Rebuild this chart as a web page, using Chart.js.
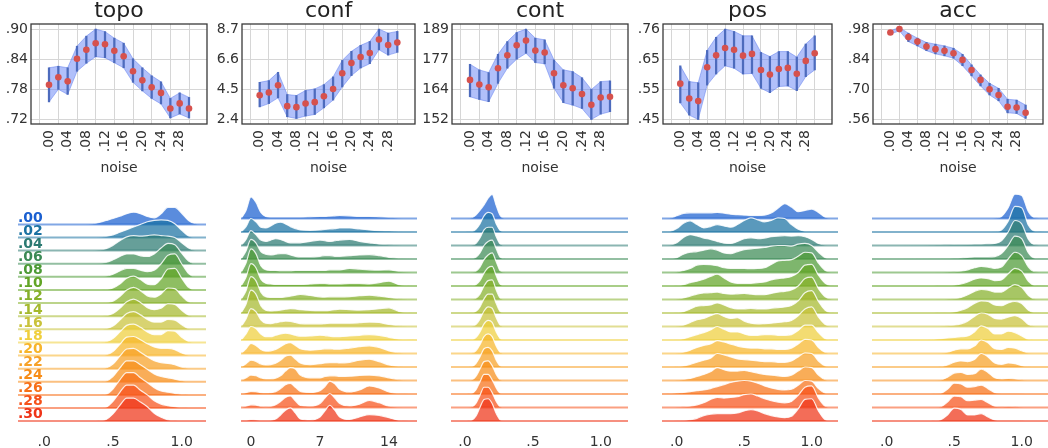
<!DOCTYPE html>
<html>
<head>
<meta charset="utf-8">
<script src="https://cdn.jsdelivr.net/npm/chart.js@4.4.1/dist/chart.umd.min.js"></script>
<style>
  body { margin: 0; background: #fff; width: 1048px; height: 448px; overflow: hidden; position: relative; }
  canvas { position: absolute; }
</style>
</head>
<body>
<script>
const FONT = "'DejaVu Sans', sans-serif";

// noise levels (x of the top row, one ridge per level in the bottom row)
const NOISE = [0, .02, .04, .06, .08, .10, .12, .14, .16, .18, .20, .22, .24, .26, .28, .30];
const NOISE_TICKS = [0, .04, .08, .12, .16, .20, .24, .28];
const NOISE_LABELS = ['.00', '.04', '.08', '.12', '.16', '.20', '.24', '.28'];
const ROW_LABELS = ['.00', '.02', '.04', '.06', '.08', '.10', '.12', '.14', '.16', '.18', '.20', '.22', '.24', '.26', '.28', '.30'];
const ROW_COLORS = ['#1a5fd0', '#1b72a2', '#2b7a72', '#3b8a55', '#4c9a35', '#62a526', '#85b02a', '#a5b92c',
                    '#c9c23a', '#efcf3c', '#f7b52a', '#f7a126', '#f78d18', '#f77018', '#f6521a', '#ef3418'];

// ---- top row: mean with band ----
const TOPO_MEAN = [.789, .804, .796, .841, .859, .872, .870, .857, .846, .816, .798, .784, .773, .742, .752, .742];
const TOPO_LOW  = [.755, .780, .770, .816, .832, .845, .843, .833, .823, .794, .777, .762, .751, .723, .731, .723];
const TOPO_HIGH = [.823, .826, .823, .866, .886, .900, .895, .882, .872, .841, .823, .807, .795, .762, .773, .764];
const TOPO_TICKS = [.72, .78, .84, .90];
const TOPO_TICK_LABELS = ['.72', '.78', '.84', '.90'];

const CONF_MEAN = [4.09, 4.28, 4.79, 3.33, 3.26, 3.51, 3.61, 4.02, 4.53, 5.62, 6.34, 6.76, 7.03, 7.98, 7.59, 7.77];
const CONF_LOW  = [3.28, 3.51, 3.91, 2.59, 2.47, 2.64, 2.75, 3.21, 3.75, 4.67, 5.46, 5.99, 6.29, 7.26, 6.89, 7.08];
const CONF_HIGH = [4.99, 5.11, 5.69, 4.14, 4.07, 4.42, 4.53, 4.83, 5.37, 6.52, 7.15, 7.57, 7.84, 8.70, 8.42, 8.54];
const CONF_TICKS = [2.4, 4.5, 6.6, 8.7];
const CONF_TICK_LABELS = ['2.4', '4.5', '6.6', '8.7'];

const CONT_MEAN = [168.2, 166.3, 165.2, 173.0, 178.3, 182.4, 184.3, 180.2, 179.4, 170.9, 166.0, 164.8, 162.4, 158.0, 161.0, 161.3];
const CONT_LOW  = [161.3, 160.2, 159.3, 166.8, 173.0, 176.7, 179.1, 175.3, 174.8, 164.8, 158.9, 157.9, 156.5, 152.0, 154.2, 155.2];
const CONT_HIGH = [174.6, 172.3, 171.2, 178.7, 183.9, 187.6, 189.0, 185.3, 184.6, 176.4, 172.3, 171.6, 169.1, 164.3, 167.5, 167.8];
const CONT_TICKS = [152, 164.33, 176.67, 189];
const CONT_TICK_LABELS = ['152', '164', '177', '189'];

const POS_MEAN = [.573, .522, .513, .629, .670, .695, .689, .669, .675, .620, .604, .623, .627, .607, .651, .677];
const POS_LOW  = [.507, .465, .450, .568, .606, .634, .626, .606, .608, .557, .542, .563, .565, .549, .597, .620];
const POS_HIGH = [.634, .580, .576, .687, .732, .760, .752, .737, .737, .680, .666, .683, .683, .664, .709, .737];
const POS_TICKS = [.45, .5533, .6567, .76];
const POS_TICK_LABELS = ['.45', '.55', '.65', '.76'];

const ACC_MEAN = [.964, .980, .943, .922, .899, .887, .879, .868, .837, .790, .744, .700, .674, .619, .616, .591];
const ACC_LOW  = [.957, .972, .922, .902, .880, .865, .856, .845, .810, .763, .716, .674, .647, .591, .588, .565];
const ACC_HIGH = [.972, .988, .961, .938, .918, .910, .902, .891, .863, .814, .767, .728, .705, .654, .650, .627];
const ACC_TICKS = [.56, .70, .84, .98];
const ACC_TICK_LABELS = ['.56', '.70', '.84', '.98'];

// ---- bottom row: ridge heights (in row spacings), one row per noise level ----
const TOPO_DENS_X = [-0.19, 0.3, 0.35, 0.4, 0.45, 0.5, 0.55, 0.6, 0.65, 0.7, 0.75, 0.8, 0.85, 0.9, 0.95, 1.0, 1.05, 1.1, 1.15, 1.18];
const TOPO_DENS = [
  [0, 0, .03, .15, .3, .45, .62, .82, .93, .82, .6, .5, .8, 1.3, 1.3, .85, .3, .05, 0, 0],
  [0, 0, 0, .02, .08, .2, .4, .6, .8, 1.0, 1.2, 1.3, 1.35, 1.3, 1.05, .55, .12, 0, 0, 0],
  [0, 0, .01, .05, .15, .4, .75, 1.05, 1.15, 1.1, 1.15, 1.2, 1.15, 1.1, 1.0, .6, .2, .02, 0, 0],
  [0, 0, 0, .02, .1, .3, .55, .75, .75, .6, .55, .75, 1.2, 1.55, 1.45, .8, .2, 0, 0, 0],
  [0, 0, 0, 0, .05, .2, .45, .65, .65, .5, .4, .5, 1.0, 1.65, 1.75, 1.0, .25, 0, 0, 0],
  [0, 0, 0, 0, .03, .15, .45, .9, 1.05, .8, .45, .4, .85, 1.6, 1.65, .9, .2, 0, 0, 0],
  [0, 0, 0, 0, .03, .15, .5, 1.0, 1.2, .95, .55, .45, .7, 1.15, 1.1, .55, .1, 0, 0, 0],
  [0, 0, 0, 0, .03, .2, .6, 1.1, 1.3, 1.05, .65, .5, .6, .95, .9, .45, .08, 0, 0, 0],
  [0, 0, 0, 0, .05, .25, .7, 1.2, 1.35, 1.1, .75, .55, .55, .75, .7, .35, .05, 0, 0, 0],
  [0, 0, 0, 0, .05, .3, .8, 1.3, 1.4, 1.15, .8, .6, .6, .9, .85, .4, .08, 0, 0, 0],
  [0, 0, 0, 0, .05, .3, .85, 1.4, 1.45, 1.2, .9, .65, .55, .55, .45, .2, .03, 0, 0, 0],
  [0, 0, 0, 0, .05, .35, .95, 1.5, 1.55, 1.25, .9, .6, .45, .4, .3, .12, .02, 0, 0, 0],
  [0, 0, 0, 0, .05, .4, 1.05, 1.6, 1.6, 1.3, .95, .6, .4, .3, .2, .08, 0, 0, 0, 0],
  [0, 0, 0, 0, .05, .45, 1.15, 1.7, 1.7, 1.3, .95, .55, .3, .2, .12, .04, 0, 0, 0, 0],
  [0, 0, 0, 0, .06, .5, 1.2, 1.75, 1.75, 1.35, 1.0, .55, .3, .18, .1, .03, 0, 0, 0, 0],
  [0, 0, 0, .02, .12, .55, 1.2, 1.75, 1.75, 1.45, 1.1, .6, .3, .1, .02, 0, 0, 0, 0, 0]
];

const CONF_DENS_X = [-1, -0.5, 0, 0.5, 1, 1.5, 2, 2.5, 3, 3.5, 4, 4.5, 5, 6, 7, 7.5, 8, 8.5, 9, 10, 11, 12, 13, 14, 15, 16, 16.8];
const CONF_DENS = [
  [0, .6, 1.6, 1.2, .45, .15, .1, .1, .1, .1, .1, .1, .1, .12, .15, .15, .18, .2, .22, .2, .15, .15, .12, .08, .02, 0, 0],
  [0, .4, 1.0, .75, .35, .3, .45, .65, .72, .6, .4, .25, .15, .12, .15, .2, .22, .25, .3, .3, .22, .15, .1, .08, .05, .03, 0],
  [0, .45, 1.1, .8, .4, .3, .4, .5, .45, .3, .2, .2, .2, .3, .4, .35, .3, .35, .4, .45, .3, .2, .1, .05, .02, 0, 0],
  [0, .6, 1.45, 1.2, .55, .35, .3, .35, .4, .4, .3, .2, .15, .15, .2, .25, .25, .2, .2, .25, .3, .33, .25, .12, .05, .02, 0],
  [0, .7, 1.75, 1.4, .5, .2, .15, .15, .12, .12, .12, .15, .15, .15, .15, .15, .2, .2, .2, .3, .25, .2, .18, .2, .08, .02, 0],
  [0, .65, 1.65, 1.35, .5, .2, .15, .12, .12, .12, .12, .12, .12, .15, .2, .2, .15, .15, .15, .2, .2, .15, .25, .36, .1, .02, 0],
  [0, .65, 1.7, 1.4, .55, .2, .15, .15, .15, .2, .25, .32, .37, .3, .2, .18, .2, .2, .2, .22, .28, .32, .25, .15, .05, .01, 0],
  [0, .65, 1.7, 1.4, .55, .2, .15, .18, .22, .28, .32, .3, .25, .2, .18, .18, .2, .25, .28, .25, .22, .25, .32, .38, .12, .02, 0],
  [0, .55, 1.33, 1.1, .5, .25, .22, .28, .35, .4, .38, .3, .22, .2, .2, .22, .25, .25, .25, .25, .28, .33, .3, .15, .05, .01, 0],
  [0, .45, 1.0, .85, .45, .25, .25, .35, .45, .5, .45, .35, .28, .3, .36, .33, .28, .25, .25, .3, .35, .4, .35, .2, .06, .01, 0],
  [0, .35, .75, .6, .3, .18, .2, .3, .5, .72, .8, .6, .35, .25, .3, .35, .35, .32, .32, .4, .5, .57, .45, .2, .05, .01, 0],
  [0, .25, .5, .42, .22, .15, .18, .28, .5, .8, .87, .6, .3, .18, .25, .3, .33, .33, .3, .35, .5, .58, .4, .15, .04, 0, 0],
  [0, .2, .4, .35, .2, .12, .12, .18, .35, .7, .95, .85, .4, .2, .2, .3, .35, .35, .3, .32, .38, .4, .35, .2, .05, 0, 0],
  [0, .1, .2, .18, .1, .08, .1, .18, .4, .68, .78, .5, .2, .12, .25, .55, .95, .75, .35, .15, .3, .6, .45, .15, .03, 0, 0],
  [0, .1, .2, .18, .08, .05, .08, .2, .45, .75, .86, .5, .15, .1, .3, .7, 1.04, .7, .3, .12, .25, .52, .35, .1, .02, 0, 0],
  [0, .05, .1, .08, .04, .03, .05, .15, .45, .8, .97, .6, .15, .08, .3, .75, 1.17, .8, .3, .12, .3, .48, .42, .25, .05, 0, 0]
];

const CONT_DENS_X = [-0.1, 0, 0.05, 0.08, 0.11, 0.14, 0.17, 0.2, 0.23, 0.26, 0.3, 1.2];
const CONT_DENS = [
  [0, 0, .05, .25, .6, 1.0, 1.5, 1.78, .95, .2, 0, 0],
  [0, 0, .03, .2, .6, 1.2, 1.45, 1.35, .6, .1, 0, 0],
  [0, 0, .02, .15, .55, 1.15, 1.35, 1.35, .65, .1, 0, 0],
  [0, 0, .02, .12, .45, 1.0, 1.3, 1.4, .75, .12, 0, 0],
  [0, 0, .02, .1, .4, .95, 1.3, 1.45, .8, .12, 0, 0],
  [0, 0, .02, .1, .4, .95, 1.35, 1.45, .75, .12, 0, 0],
  [0, 0, .02, .1, .4, 1.0, 1.4, 1.45, .7, .1, 0, 0],
  [0, 0, .02, .12, .45, 1.05, 1.4, 1.4, .7, .1, 0, 0],
  [0, 0, .02, .15, .55, 1.15, 1.45, 1.35, .65, .1, 0, 0],
  [0, 0, .03, .18, .6, 1.2, 1.45, 1.3, .6, .1, 0, 0],
  [0, 0, .03, .2, .65, 1.25, 1.45, 1.25, .55, .08, 0, 0],
  [0, 0, .04, .25, .75, 1.35, 1.45, 1.2, .5, .08, 0, 0],
  [0, 0, .04, .3, .85, 1.4, 1.45, 1.1, .45, .06, 0, 0],
  [0, 0, .05, .3, .9, 1.45, 1.45, 1.05, .45, .06, 0, 0],
  [0, 0, .05, .3, .9, 1.5, 1.5, 1.1, .45, .06, 0, 0],
  [0, .01, .06, .35, 1.0, 1.6, 1.65, 1.3, .55, .08, 0, 0]
];

const POS_DENS_X = [-0.11, -0.05, 0, 0.05, 0.1, 0.15, 0.2, 0.25, 0.3, 0.35, 0.4, 0.45, 0.5, 0.55, 0.6, 0.65, 0.7, 0.75, 0.8, 0.85, 0.9, 0.95, 1.0, 1.05, 1.1, 1.15, 1.2];
const POS_DENS = [
  [0, .03, .2, .38, .42, .42, .42, .42, .45, .4, .32, .28, .25, .22, .22, .25, .4, .75, 1.1, .85, .5, .6, .7, .45, .1, 0, 0],
  [0, .05, .25, .65, .83, .55, .3, .4, .55, .45, .35, .55, .85, 1.05, .9, .75, .85, 1.05, 1.0, .55, .2, .05, 0, 0, 0, 0, 0],
  [0, .03, .2, .6, .8, .7, .55, .45, .3, .18, .15, .3, .5, .57, .5, .55, .65, .7, .72, .7, .72, .65, .45, .15, .02, 0, 0],
  [0, .02, .1, .35, .5, .55, .65, .75, .65, .45, .4, .55, .7, .75, .8, .85, .95, 1.0, 1.0, .95, 1.1, 1.15, 1.0, .5, .1, 0, 0],
  [0, 0, .03, .15, .3, .55, .6, .58, .5, .35, .3, .3, .3, .28, .3, .35, .6, .85, .9, .95, 1.2, 1.5, 1.45, .7, .15, .01, 0],
  [0, 0, .02, .1, .25, .35, .5, .7, .87, .6, .3, .2, .2, .2, .25, .3, .45, .55, .6, .7, 1.0, 1.55, 1.6, .8, .2, .02, 0],
  [0, 0, .02, .12, .25, .4, .48, .5, .55, .45, .4, .42, .45, .4, .35, .35, .45, .55, .6, .7, 1.0, 1.55, 1.65, .8, .2, .02, 0],
  [0, 0, .02, .1, .3, .5, .55, .6, .75, .6, .4, .3, .3, .35, .3, .3, .35, .4, .45, .55, .9, 1.5, 1.65, .85, .2, .02, 0],
  [0, 0, .02, .1, .3, .5, .6, .8, .95, .75, .6, .65, .4, .25, .2, .22, .25, .3, .35, .45, .8, 1.3, 1.45, .7, .15, .01, 0],
  [0, 0, .02, .1, .25, .4, .55, .75, 1.0, .8, .6, .6, .45, .35, .35, .4, .4, .35, .35, .4, .7, 1.1, 1.1, .55, .1, .01, 0],
  [0, 0, .02, .1, .25, .45, .6, .7, .95, .85, .7, .55, .45, .4, .4, .35, .35, .3, .3, .4, .7, 1.05, 1.0, .45, .08, 0, 0],
  [0, 0, .02, .08, .2, .35, .5, .65, 1.0, .9, .75, .6, .55, .5, .45, .4, .4, .35, .35, .45, .75, 1.05, 1.0, .45, .08, 0, 0],
  [0, 0, .02, .08, .15, .3, .45, .65, .95, .8, .7, .7, .75, .65, .55, .45, .4, .35, .3, .4, .7, 1.0, .95, .4, .06, 0, 0],
  [0, .03, .08, .12, .18, .25, .3, .4, .55, .7, .85, .95, 1.0, .95, .8, .6, .45, .35, .3, .35, .65, 1.0, .95, .4, .06, 0, 0],
  [0, 0, .02, .05, .1, .2, .35, .6, .75, .7, .75, .8, .95, 1.0, .85, .65, .5, .4, .35, .45, .9, 1.5, 1.6, .7, .1, 0, 0],
  [0, 0, .02, .05, .1, .2, .4, .5, .55, .55, .55, .6, .75, .85, .75, .55, .4, .3, .25, .35, .9, 1.6, 1.65, .75, .1, 0, 0]
];

const ACC_DENS_X = [-0.11, 0.3, 0.35, 0.4, 0.45, 0.5, 0.55, 0.6, 0.65, 0.7, 0.75, 0.8, 0.85, 0.9, 0.95, 1.0, 1.05, 1.1, 1.2];
const ACC_DENS = [
  [0, 0, 0, 0, 0, 0, 0, 0, 0, 0, 0, .02, .15, .8, 1.8, 1.7, .5, .05, 0],
  [0, 0, 0, 0, 0, 0, 0, 0, 0, 0, 0, .02, .15, .8, 1.9, 1.8, .5, .05, 0],
  [0, .02, .03, .04, .05, .06, .07, .08, .09, .1, .12, .15, .35, 1.0, 1.85, 1.6, .45, .05, 0],
  [0, .02, .03, .04, .05, .06, .08, .12, .15, .15, .15, .18, .4, 1.0, 1.7, 1.5, .45, .05, 0],
  [0, 0, 0, .01, .03, .05, .1, .2, .35, .45, .4, .3, .4, 1.0, 1.5, 1.25, .4, .05, 0],
  [0, 0, 0, .01, .03, .06, .15, .3, .5, .6, .55, .4, .45, .9, 1.3, 1.1, .35, .03, 0],
  [0, 0, 0, .01, .03, .06, .15, .35, .6, .75, .7, .55, .55, .85, 1.1, .9, .3, .03, 0],
  [0, 0, 0, .01, .03, .08, .2, .4, .7, .9, .85, .6, .55, .75, .85, .7, .2, .02, 0],
  [0, 0, 0, .02, .05, .1, .2, .4, .75, 1.0, .9, .6, .55, .7, .8, .6, .15, .02, 0],
  [0, 0, .05, .1, .15, .2, .25, .3, .6, 1.05, .85, .45, .45, .65, .55, .3, .05, 0, 0],
  [0, 0, 0, .02, .1, .25, .35, .35, .55, 1.0, .8, .35, .3, .45, .4, .2, .03, 0, 0],
  [0, 0, 0, .02, .15, .35, .45, .4, .55, 1.0, .75, .3, .2, .3, .25, .1, .02, 0, 0],
  [0, 0, 0, .03, .25, .55, .6, .45, .5, .85, .6, .2, .12, .15, .12, .05, 0, 0, 0],
  [0, 0, .02, .05, .35, .8, .75, .5, .55, .65, .4, .1, .05, .05, .05, .02, 0, 0, 0],
  [0, 0, 0, .05, .4, .85, .8, .5, .55, .6, .35, .1, .05, .08, .05, .02, 0, 0, 0],
  [0, 0, .02, .1, .45, .95, .85, .45, .45, .55, .3, .08, .04, .04, .04, .02, 0, 0, 0]
];

// ---- helpers ----
function rgba(hex, a) {
  const n = parseInt(hex.slice(1), 16);
  return 'rgba(' + (n >> 16) + ',' + ((n >> 8) & 255) + ',' + (n & 255) + ',' + a + ')';
}

function makeCanvas(left, top, width, height) {
  const cv = document.createElement('canvas');
  cv.width = width; cv.height = height;
  cv.style.left = left + 'px'; cv.style.top = top + 'px';
  cv.style.width = width + 'px'; cv.style.height = height + 'px';
  document.body.appendChild(cv);
  return cv;
}

const frame = {
  id: 'frame',
  afterDatasetsDraw(chart) {
    const a = chart.chartArea, ctx = chart.ctx;
    ctx.save();
    ctx.strokeStyle = '#3a3a3a';
    ctx.lineWidth = 1.3;
    ctx.strokeRect(a.left, a.top, a.right - a.left, a.bottom - a.top);
    ctx.restore();
  }
};

const LEFT = 45, RIGHT = 14;

function bandPanel(title, mean, low, high, ticks, tickLabels, boxLeft, boxRight) {
  const boxW = boxRight - boxLeft;
  const cv = makeCanvas(boxLeft - LEFT, 0, Math.round(LEFT + boxW + RIGHT), 180);
  const step = ticks[1] - ticks[0];
  new Chart(cv, {
    type: 'line',
    data: {
      datasets: [
        {
          type: 'scatter',
          data: NOISE.map((x, i) => ({x: x, y: mean[i]})),
          pointRadius: 3.3,
          pointBackgroundColor: '#d6514d',
          pointBorderWidth: 0,
          showLine: false
        },
        {
          type: 'bar',
          data: NOISE.map((x, i) => ({x: x, y: [low[i], high[i]]})),
          backgroundColor: '#4d6bbd',
          barThickness: 1.6,
          borderWidth: 0
        },
        {
          data: NOISE.map((x, i) => ({x: x, y: high[i]})),
          borderColor: 'rgba(95,125,240,0.5)',
          borderWidth: 1,
          backgroundColor: 'rgba(100,130,245,0.5)',
          fill: '+1',
          pointRadius: 0,
          tension: 0
        },
        {
          data: NOISE.map((x, i) => ({x: x, y: low[i]})),
          borderColor: 'rgba(95,125,240,0.5)',
          borderWidth: 1,
          fill: false,
          pointRadius: 0,
          tension: 0
        }
      ]
    },
    options: {
      responsive: false,
      animation: false,
      events: [],
      layout: {padding: 0},
      plugins: {
        legend: {display: false},
        tooltip: {enabled: false},
        title: {
          display: true, text: title, fullSize: false, color: '#222',
          font: {family: FONT, size: 22, weight: 'normal', lineHeight: 1},
          padding: {top: 0, bottom: 2}
        }
      },
      scales: {
        x: {
          type: 'linear', min: -0.015, max: 0.315,
          afterBuildTicks: s => { s.ticks = NOISE_TICKS.map(v => ({value: v})); },
          ticks: {
            callback: (v, i) => NOISE_LABELS[i],
            minRotation: 90, maxRotation: 90, autoSkip: false, padding: 6,
            font: {family: FONT, size: 14}, color: '#333'
          },
          grid: {color: '#d6d6d6', drawTicks: false},
          border: {display: false},
          title: {display: true, text: 'noise', color: '#333', font: {family: FONT, size: 14}, padding: {top: 0, bottom: 3}},
          afterFit: s => { s.height = 56; }
        },
        y: {
          type: 'linear',
          min: ticks[0] - 0.15 * step,
          max: ticks[ticks.length - 1] + 0.17 * step,
          afterBuildTicks: s => { s.ticks = ticks.map(v => ({value: v})); },
          ticks: {
            callback: (v, i) => tickLabels[i],
            autoSkip: false, padding: 3,
            font: {family: FONT, size: 14}, color: '#333'
          },
          grid: {color: '#d6d6d6', drawTicks: false},
          border: {display: false},
          afterFit: s => { s.width = LEFT; }
        },
        yr: {
          position: 'right', display: true,
          ticks: {display: false}, grid: {display: false}, border: {display: false},
          afterFit: s => { s.width = RIGHT; }
        }
      }
    },
    plugins: [frame]
  });
}

function ridgePanel(xs, rows, xMin, xMax, ticks, tickLabels, left, right, showRowLabels) {
  const cv = makeCanvas(left, 180, right - left, 268);
  const n = rows.length;
  const datasets = [];
  for (let r = n - 1; r >= 0; r--) {
    const base = n - 1 - r;
    datasets.push({
      data: [{x: xMin, y: base}, {x: xMax, y: base}],
      borderColor: rgba(ROW_COLORS[r], 0.55),
      borderWidth: 2,
      pointRadius: 0,
      fill: false
    });
    datasets.push({
      data: xs.map((x, i) => ({x: x, y: base + rows[r][i]})),
      borderColor: 'rgba(255,255,255,0.85)',
      borderWidth: 1.2,
      backgroundColor: rgba(ROW_COLORS[r], 0.72),
      fill: {value: base},
      pointRadius: 0,
      cubicInterpolationMode: 'monotone'
    });
  }
  new Chart(cv, {
    type: 'line',
    data: {datasets: datasets},
    options: {
      responsive: false,
      animation: false,
      events: [],
      layout: {padding: 0},
      plugins: {legend: {display: false}, tooltip: {enabled: false}},
      scales: {
        x: {
          type: 'linear', min: xMin, max: xMax,
          afterBuildTicks: s => { s.ticks = ticks.map(v => ({value: v})); },
          ticks: {
            callback: (v, i) => tickLabels[i],
            autoSkip: false, maxRotation: 0, padding: 2,
            font: {family: FONT, size: 14}, color: '#333'
          },
          grid: {display: false},
          border: {display: false},
          afterFit: s => { s.height = 23.6; }
        },
        y: {
          type: 'linear', min: -0.25, max: 17.85,
          display: showRowLabels,
          afterBuildTicks: s => { s.ticks = ROW_LABELS.map((l, i) => ({value: i + 0.48})); },
          ticks: {
            mirror: true, padding: 0, z: 1, autoSkip: false,
            callback: (v, i) => ROW_LABELS[n - 1 - i],
            color: c => ROW_COLORS[n - 1 - c.index],
            font: {family: FONT, size: 14, weight: 'bold', lineHeight: 1}
          },
          grid: {display: false},
          border: {display: false},
          afterFit: s => { s.width = 0; }
        }
      }
    }
  });
}

bandPanel('topo', TOPO_MEAN, TOPO_LOW, TOPO_HIGH, TOPO_TICKS, TOPO_TICK_LABELS, 30.7, 206.7);
bandPanel('conf', CONF_MEAN, CONF_LOW, CONF_HIGH, CONF_TICKS, CONF_TICK_LABELS, 241.7, 415);
bandPanel('cont', CONT_MEAN, CONT_LOW, CONT_HIGH, CONT_TICKS, CONT_TICK_LABELS, 451.7, 628);
bandPanel('pos', POS_MEAN, POS_LOW, POS_HIGH, POS_TICKS, POS_TICK_LABELS, 662.7, 831.7);
bandPanel('acc', ACC_MEAN, ACC_LOW, ACC_HIGH, ACC_TICKS, ACC_TICK_LABELS, 873, 1043);

ridgePanel(TOPO_DENS_X, TOPO_DENS, -0.191, 1.177, [0, .5, 1], ['.0', '.5', '1.0'], 18, 206, true);
ridgePanel(CONF_DENS_X, CONF_DENS, -1.01, 16.84, [0, 7, 14], ['0', '7', '14'], 241, 417, false);
ridgePanel(CONT_DENS_X, CONT_DENS, -0.103, 1.2, [0, .5, 1], ['.0', '.5', '1.0'], 451, 628, false);
ridgePanel(POS_DENS_X, POS_DENS, -0.109, 1.195, [0, .5, 1], ['.0', '.5', '1.0'], 662, 838, false);
ridgePanel(ACC_DENS_X, ACC_DENS, -0.109, 1.195, [0, .5, 1], ['.0', '.5', '1.0'], 872, 1048, false);
</script>
</body>
</html>
